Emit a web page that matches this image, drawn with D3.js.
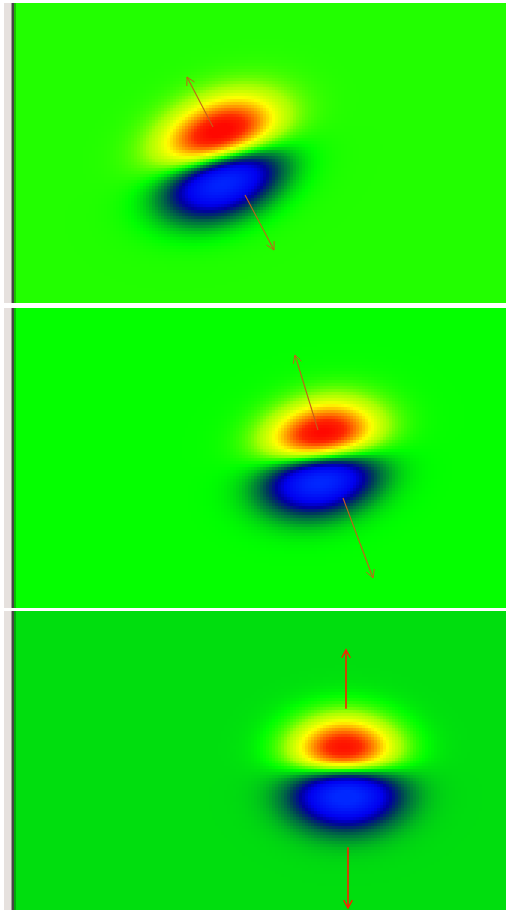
<!DOCTYPE html>
<html>
<head>
<meta charset="utf-8">
<script src="https://cdn.jsdelivr.net/npm/d3@7"></script>
<style>
body { margin: 0; background: #fff; }
svg { display: block; }
</style>
</head>
<body>
<svg class="chart"></svg>
<script>
// three frames of the same dipole field, rotating towards vertical
const frames = ["frame1", "frame2", "frame3"];
const centerX = [207.5, 307.5, 331];
const centerY = [154.5, 149.5, 161.5];
const tilt = [23, 14, 0]; // long axis of the lobes, degrees
const dipoleAngle = [3.3, -3.4, 2]; // red -> blue direction, degrees from vertical
const sigmaLong = [39, 36, 34];
const sigmaShort = [25.9, 24.9, 25.5];
const baseLevel = [0.04, 0.005, -0.048];
// arrows: [x start, y start, x tip, y tip] in field units
const arrowOut = [[199, 124, 173, 74], [304, 122, 281, 47], [332, 98, 332, 39]];
const arrowIn = [[231, 192, 260, 247], [329, 190, 359, 270], [334, 237, 334, 298]];

const colorStops = [-1, -0.62, -0.46, -0.32, -0.16, 0, 0.2, 0.4, 0.62, 0.84, 1];
const colorValues = ["#0028ff", "#0000f0", "#0000a0", "#003c5a", "#009030", "#00ff00",
	"#a8ff00", "#ffff00", "#ff9000", "#ff2800", "#ff0800"];

const size = { w: 506, h: 910 };
const panelTop = [3, 308, 611];
const panelH = [300, 300, 299];
const fieldLeft = 14;
const step = 3;
const fieldW = 492, fieldH = 300;

const svg = d3.select("svg.chart").attr("width", size.w).attr("height", size.h);

const colorScale = d3.scaleLinear().domain(colorStops).range(colorValues).clamp(true);

function fieldValue(i, x, y) {
	const a = tilt[i] * Math.PI / 180;
	const phi = dipoleAngle[i] * Math.PI / 180;
	const u = [Math.cos(a), -Math.sin(a)];
	const v = [Math.sin(a), Math.cos(a)];
	const w = [-Math.sin(phi), -Math.cos(phi)];
	const dx = x - centerX[i], dy = y - centerY[i];
	const su2 = sigmaLong[i] * sigmaLong[i], sv2 = sigmaShort[i] * sigmaShort[i];
	// inverse covariance
	const m00 = u[0] * u[0] / su2 + v[0] * v[0] / sv2;
	const m01 = u[0] * u[1] / su2 + v[0] * v[1] / sv2;
	const m11 = u[1] * u[1] / su2 + v[1] * v[1] / sv2;
	const mx = m00 * dx + m01 * dy, my = m01 * dx + m11 * dy;
	const q = dx * mx + dy * my;
	const k = w[0] * (m00 * w[0] + m01 * w[1]) + w[1] * (m01 * w[0] + m11 * w[1]);
	const s0 = 1 / Math.sqrt(k);
	return baseLevel[i] + s0 * (w[0] * mx + w[1] * my) * Math.exp(0.5 - q / 2);
}

frames.forEach((name, i) => {
	const xScale = d3.scaleLinear().domain([0, fieldW]).range([fieldLeft, size.w]);
	const yScale = d3.scaleLinear().domain([0, fieldH]).range([panelTop[i], panelTop[i] + panelH[i]]);
	const g = svg.append("g").attr("class", name);

	const clipId = "clip-" + name;
	g.append("clipPath").attr("id", clipId)
		.append("rect")
		.attr("x", xScale(0)).attr("y", yScale(0))
		.attr("width", xScale(fieldW) - xScale(0)).attr("height", panelH[i]);

	const cells = [];
	for (let y = 0; y < fieldH; y += step) {
		for (let x = 0; x < fieldW; x += step) {
			cells.push({ x: x, y: y, val: fieldValue(i, x + step / 2, y + step / 2) });
		}
	}

	const fieldG = g.append("g").attr("clip-path", `url(#${clipId})`);
	fieldG.selectAll("rect")
		.data(cells)
		.join("rect")
		.attr("x", (d) => xScale(d.x))
		.attr("y", (d) => yScale(d.y))
		.attr("width", xScale(step) - xScale(0) + 0.4)
		.attr("height", yScale(step) - yScale(0) + 0.4)
		.attr("fill", (d) => colorScale(d.val))
		.attr("shape-rendering", "crispEdges");

	// window frame on the left
	g.append("rect").attr("x", 4).attr("y", panelTop[i]).attr("width", 7).attr("height", panelH[i]).attr("fill", "#e6e1de");
	g.append("rect").attr("x", 11).attr("y", panelTop[i]).attr("width", 1).attr("height", panelH[i]).attr("fill", "#9a9896");
	g.append("rect").attr("x", 12).attr("y", panelTop[i]).attr("width", 2).attr("height", panelH[i]).attr("fill", "#454545");
	g.append("rect").attr("x", 14).attr("y", panelTop[i]).attr("width", 2).attr("height", panelH[i]).attr("fill", "#000").attr("opacity", 0.25);

	const arrowColor = i === 2 ? "#ff1e00" : "#c4601a";
	const arrowWidth = i === 2 ? 1.6 : 1.1;
	const arrowG = fieldG.append("g");
	[arrowOut[i], arrowIn[i]].forEach((a) => {
		const x1 = xScale(a[0]), y1 = yScale(a[1]), x2 = xScale(a[2]), y2 = yScale(a[3]);
		const ang = Math.atan2(y2 - y1, x2 - x1);
		const len = 9, spread = 0.5;
		const head = d3.path();
		head.moveTo(x2 - len * Math.cos(ang - spread), y2 - len * Math.sin(ang - spread));
		head.lineTo(x2, y2);
		head.lineTo(x2 - len * Math.cos(ang + spread), y2 - len * Math.sin(ang + spread));
		arrowG.append("line")
			.attr("x1", x1).attr("y1", y1).attr("x2", x2).attr("y2", y2)
			.attr("stroke", arrowColor).attr("stroke-width", arrowWidth);
		arrowG.append("path")
			.attr("d", head.toString())
			.attr("fill", "none")
			.attr("stroke", arrowColor).attr("stroke-width", arrowWidth * 0.9);
	});
});
</script>
</body>
</html>
